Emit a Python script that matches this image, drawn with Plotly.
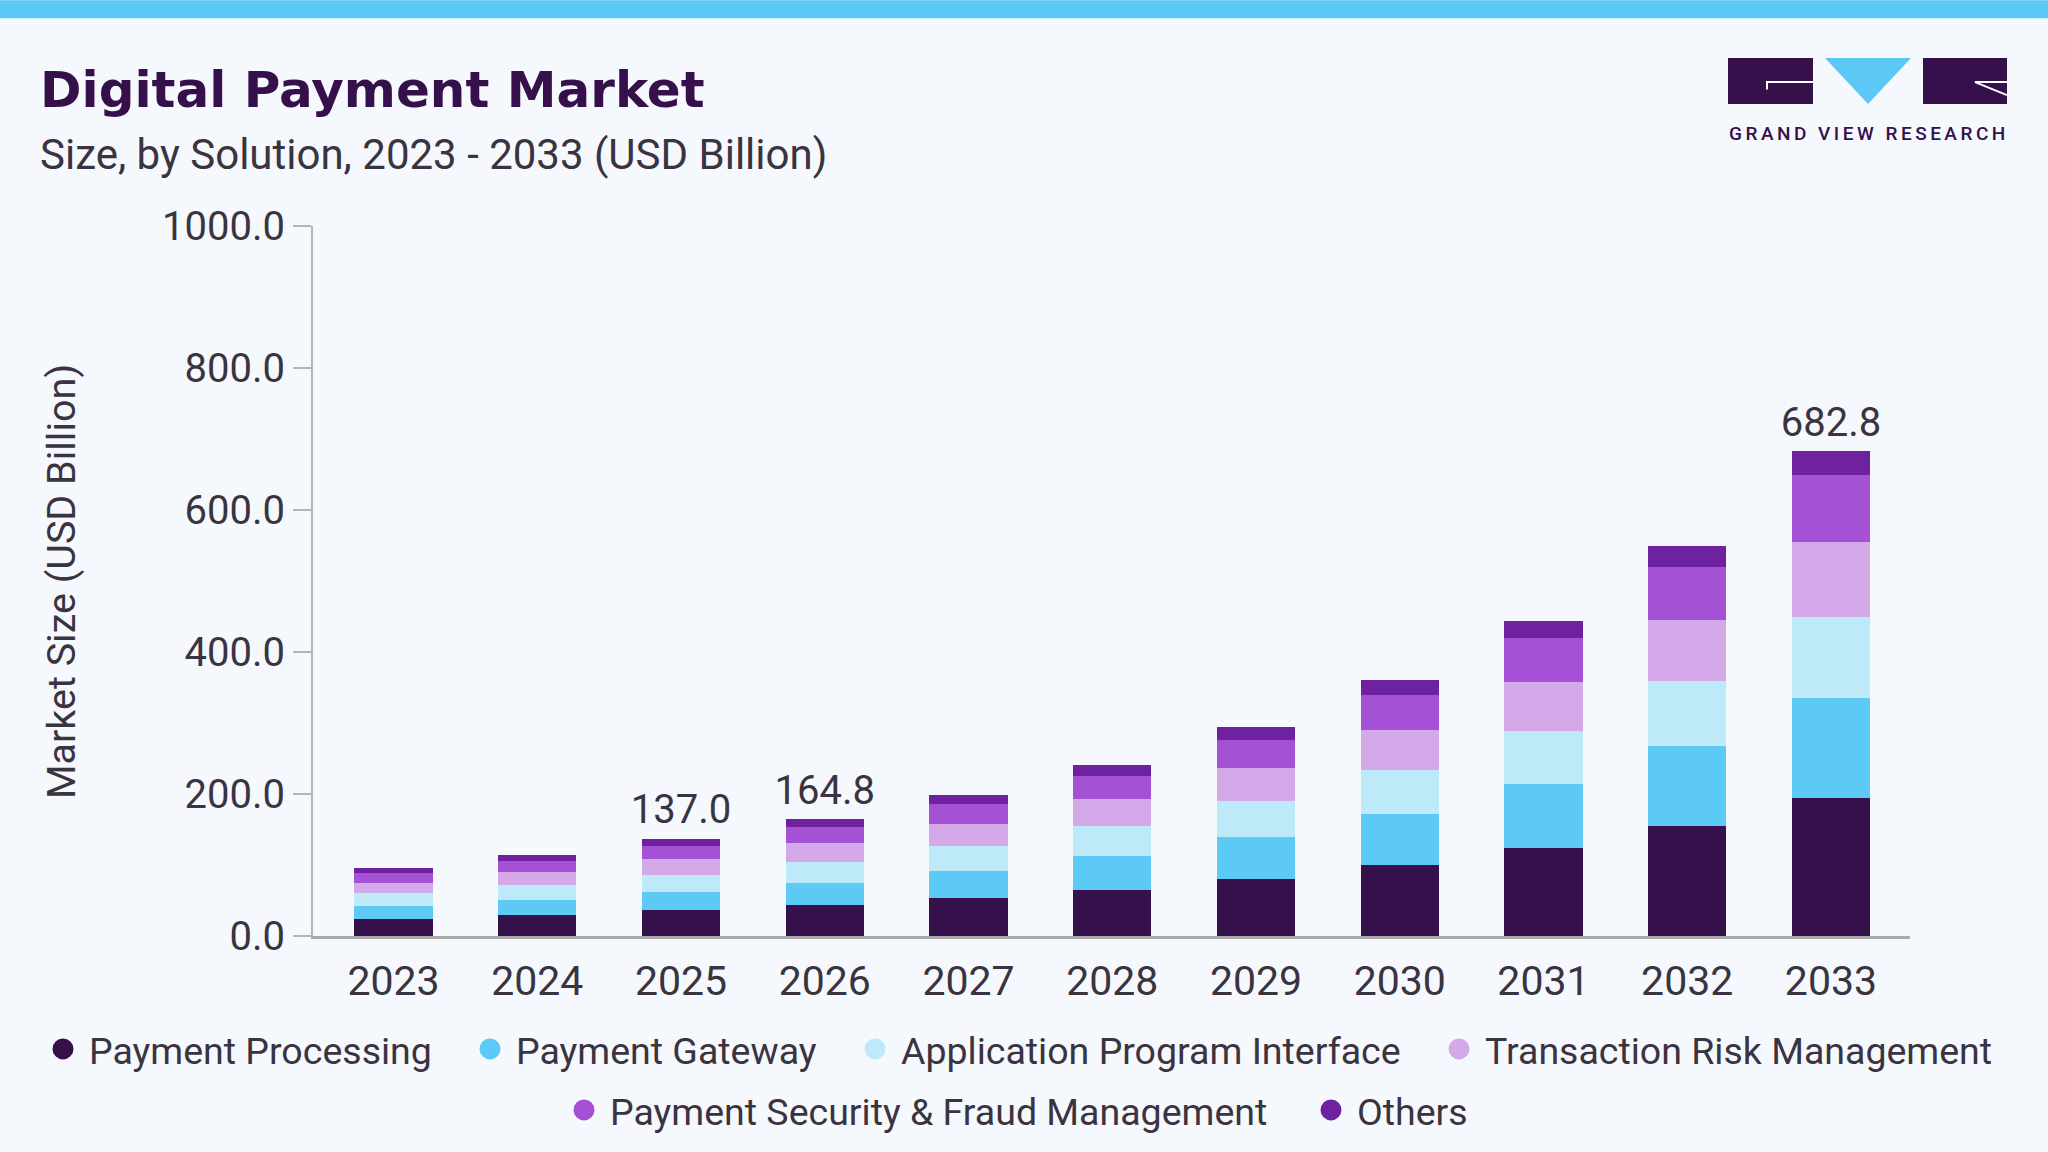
import plotly.graph_objects as go

# ---------------- data ----------------
years = ["2023", "2024", "2025", "2026", "2027", "2028", "2029", "2030", "2031", "2032", "2033"]
payment_processing = [24.1, 29.2, 36.0, 43.5, 53.5, 65.3, 80.8, 99.5, 124.2, 154.8, 193.7]
payment_gateway = [17.9, 21.2, 26.0, 31.1, 38.0, 47.4, 58.7, 71.8, 89.8, 112.9, 142.1]
application_program_interface = [17.9, 21.2, 24.2, 29.8, 35.2, 42.3, 50.5, 62.0, 74.8, 91.4, 112.9]
transaction_risk_management = [15.1, 18.4, 22.7, 26.9, 31.5, 38.0, 46.5, 56.3, 69.6, 85.8, 106.1]
payment_security_fraud = [13.7, 15.1, 18.3, 22.2, 27.2, 32.4, 39.4, 49.3, 61.1, 75.5, 93.9]
others = [7.1, 9.0, 9.8, 11.3, 13.1, 16.0, 18.0, 21.1, 24.5, 29.2, 34.1]

series_names = ["Payment Processing", "Payment Gateway", "Application Program Interface",
                "Transaction Risk Management", "Payment Security & Fraud Management", "Others"]
series_values = [payment_processing, payment_gateway, application_program_interface,
                 transaction_risk_management, payment_security_fraud, others]
series_colors = ["#36104A", "#5CCAF5", "#BDE9F9", "#D4A9EA", "#A551D6", "#6E22A0"]

labelled_years = ["2025", "2026", "2033"]
y_ticks = [0, 200, 400, 600, 800, 1000]

# ---------------- geometry helpers (page pixels -> paper coords) ----------------
W, H = 2048, 1152
L, R, T, B = 313, 138, 226, 215.5
PW, PH = W - L - R, H - T - B


def px(x):
    return (x - L) / PW


def py(y):
    return (H - B - y) / PH


BG = "#F5F8FC"
TEXT = "#3A3340"
DARK = "#36104A"
FONT = "Roboto"

fig = go.Figure()

for name, vals, col in zip(series_names, series_values, series_colors):
    fig.add_trace(go.Bar(x=years, y=vals, name=name, marker=dict(color=col, line=dict(width=0)),
                         width=0.545, showlegend=False, hoverinfo="x+y+name"))

totals = [sum(v[i] for v in series_values) for i in range(len(years))]
lab_x = [y for y in years if y in labelled_years]
lab_y = [totals[years.index(y)] for y in lab_x]
fig.add_trace(go.Scatter(x=lab_x, y=lab_y, mode="markers+text", text=[f"{v:.1f}" for v in lab_y],
                         marker=dict(size=7, color="rgba(0,0,0,0)"),
                         textposition="top center", textfont=dict(family=FONT, size=40, color=TEXT),
                         showlegend=False, hoverinfo="skip", cliponaxis=False))

# legend entries (circle markers), each in its own legend for exact placement
legend_pos = [(63, 1049), (490, 1049), (875, 1049), (1459, 1049), (584, 1110), (1331, 1110)]
legend_layouts = {}
for i, (name, col) in enumerate(zip(series_names, series_colors)):
    lname = "legend" if i == 0 else f"legend{i + 1}"
    fig.add_trace(go.Scatter(x=[None], y=[None], mode="markers", name=name,
                             marker=dict(symbol="circle", size=16, color=col, line=dict(color=col, width=5)),
                             legend=lname, showlegend=True))
    cx, cy = legend_pos[i]
    legend_layouts[lname] = dict(
        orientation="h", xref="container", yref="container",
        x=(cx - 26) / W, y=1 - cy / H, xanchor="left", yanchor="middle",
        font=dict(family=FONT, size=37.5, color=TEXT), bgcolor="rgba(0,0,0,0)",
        itemwidth=42, borderwidth=0)

shapes = []
# top band
shapes.append(dict(type="rect", xref="paper", yref="paper", x0=px(0), x1=px(W), y0=py(0), y1=py(18),
                   fillcolor="#5BC8F5", line=dict(width=0), layer="above"))
# logo
shapes.append(dict(type="rect", xref="paper", yref="paper", x0=px(1728), x1=px(1813), y0=py(104), y1=py(58),
                   fillcolor=DARK, line=dict(width=0)))
shapes.append(dict(type="rect", xref="paper", yref="paper", x0=px(1923), x1=px(2007), y0=py(104), y1=py(58),
                   fillcolor=DARK, line=dict(width=0)))
tri = f"M {px(1825)} {py(58)} L {px(1911)} {py(58)} L {px(1868)} {py(104)} Z"
shapes.append(dict(type="path", xref="paper", yref="paper", path=tri, fillcolor="#5BC8F5", line=dict(width=0)))
g_line = f"M {px(1767)} {py(89.5)} L {px(1767)} {py(82)} L {px(1813)} {py(82)}"
shapes.append(dict(type="path", xref="paper", yref="paper", path=g_line, line=dict(color="white", width=2)))
r_line = f"M {px(2007)} {py(82)} L {px(1975)} {py(82)} L {px(2007)} {py(95)}"
shapes.append(dict(type="path", xref="paper", yref="paper", path=r_line, line=dict(color="white", width=2)))

annotations = [
    dict(text="<b>Digital Payment Market</b>", xref="paper", yref="paper", x=px(38), y=py(90),
         xanchor="left", yanchor="middle", showarrow=False,
         font=dict(family="DejaVu Sans", size=50, color=DARK)),
    dict(text="Size, by Solution, 2023 - 2033 (USD Billion)", xref="paper", yref="paper", x=px(38), y=py(154),
         xanchor="left", yanchor="middle", showarrow=False,
         font=dict(family=FONT, size=42, color=TEXT)),
    dict(text='<span style="letter-spacing:3.5px;font-weight:500">GRAND VIEW RESEARCH</span>',
         xref="paper", yref="paper",
         x=px(1727), y=py(133), xanchor="left", yanchor="middle", showarrow=False,
         font=dict(family=FONT, size=19, color=DARK)),
    dict(text="Market Size (USD Billion)", xref="paper", yref="paper", x=px(61), y=0.5,
         xanchor="center", yanchor="middle", textangle=-90, showarrow=False,
         font=dict(family=FONT, size=39.5, color=TEXT)),
]

fig.update_layout(
    width=W, height=H, barmode="stack",
    margin=dict(l=L, r=R, t=T, b=B, autoexpand=False),
    paper_bgcolor=BG, plot_bgcolor=BG,
    font=dict(family=FONT, color=TEXT),
    shapes=shapes, annotations=annotations,
    xaxis=dict(type="category", range=[-0.56, 10.55], showgrid=False, zeroline=False,
               showline=True, linecolor="#AAAAAA", linewidth=3,
               ticks="outside", ticklen=7, tickcolor="rgba(0,0,0,0)",
               tickfont=dict(family=FONT, size=41, color=TEXT)),
    yaxis=dict(range=[0, 1000], tickvals=y_ticks, tickformat=".1f", showgrid=False, zeroline=False,
               showline=True, linecolor="#B5B5B5", linewidth=2,
               ticks="outside", ticklen=18, tickwidth=2, tickcolor="#B5B5B5",
               tickfont=dict(family=FONT, size=40, color=TEXT)),
    **legend_layouts,
)

fig.write_html("out.html")
